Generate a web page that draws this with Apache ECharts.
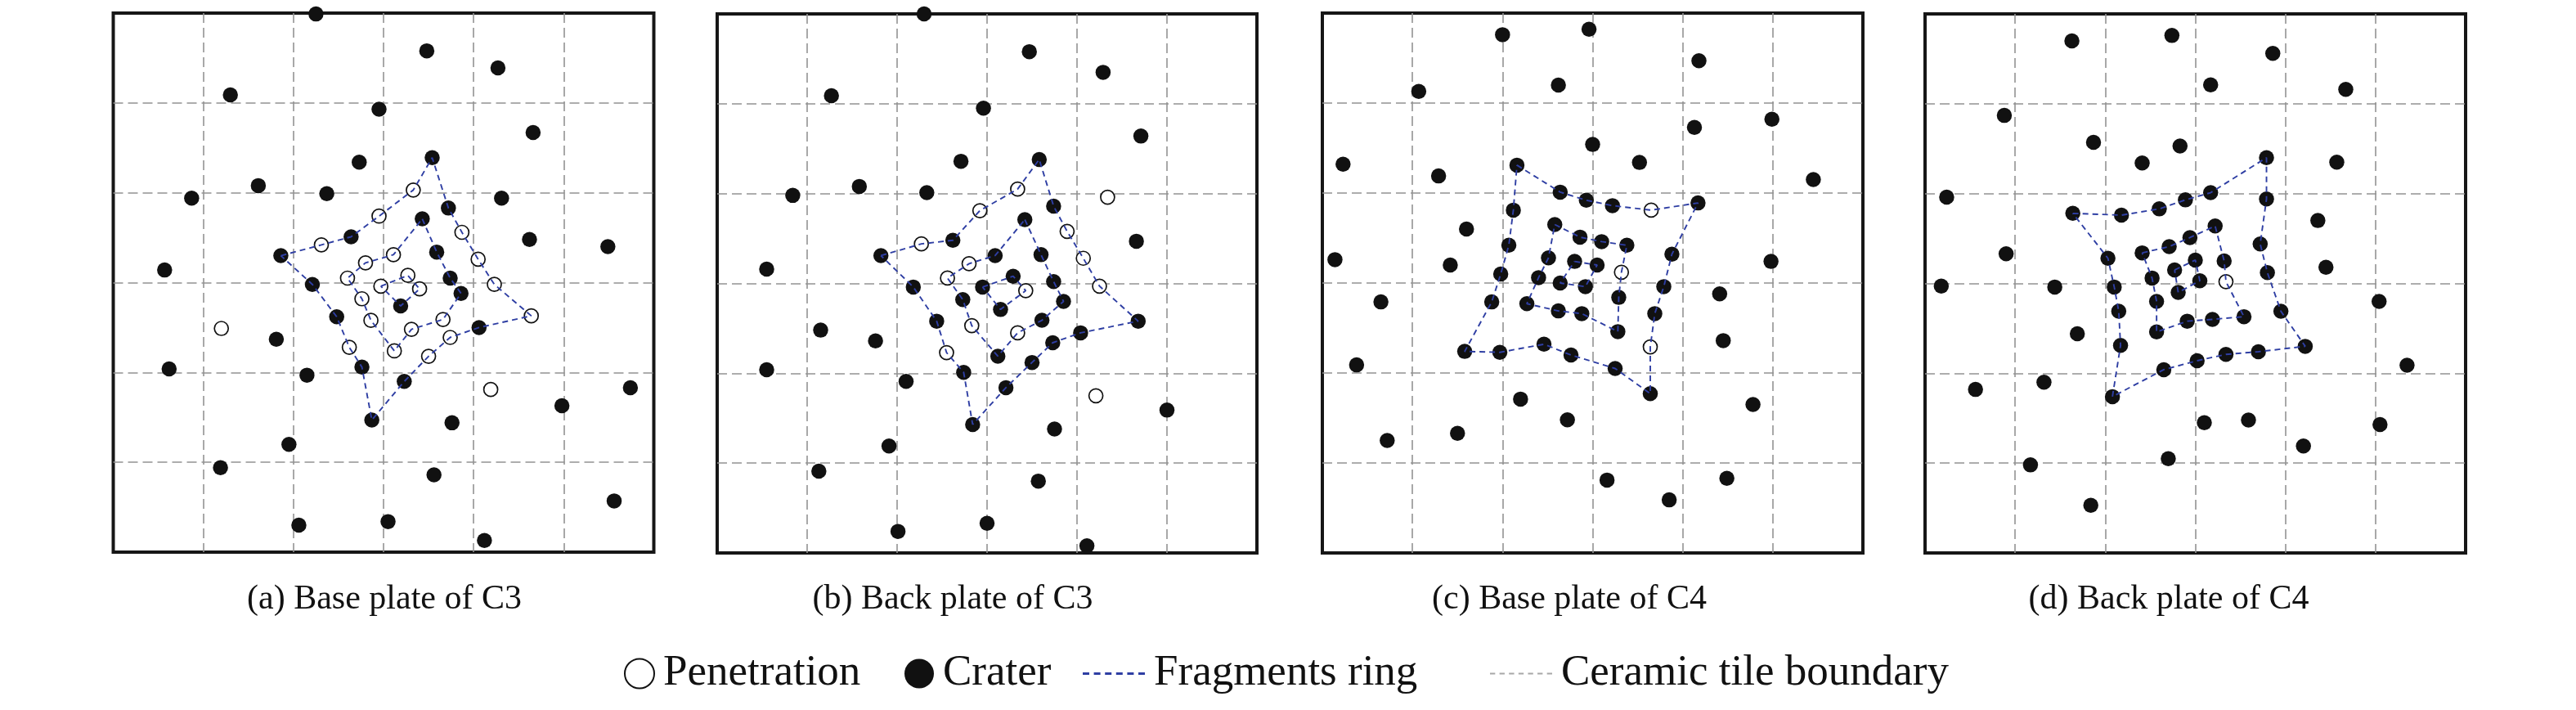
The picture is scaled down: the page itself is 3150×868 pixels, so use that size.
<!DOCTYPE html>
<html>
<head>
<meta charset="utf-8">
<script src="https://cdn.jsdelivr.net/npm/echarts@6/dist/echarts.min.js"></script>
<style>
html,body{margin:0;padding:0;background:#fff;}
#chart{width:3150px;height:868px;}
</style>
</head>
<body>
<div id="chart"></div>
<script>
// ---- Data (tile units: 6 x 6 ceramic tiles, y measured from top) ----
const captions = ['(a) Base plate of C3', '(b) Back plate of C3', '(c) Base plate of C4', '(d) Back plate of C4'];
const legendNames = ['Penetration', 'Crater', 'Fragments ring', 'Ceramic tile boundary'];

const a_crater = [[2.25,0.01],[3.48,0.42],[4.27,0.61],[1.30,0.91],[2.95,1.07],[4.66,1.33],[3.54,1.61],[2.73,1.66],[1.61,1.92],[0.87,2.06],[2.37,2.01],[4.31,2.06],[3.72,2.17],[3.43,2.29],[4.62,2.52],[5.49,2.60],[2.64,2.49],[1.86,2.70],[3.59,2.66],[0.57,2.86],[3.74,2.95],[2.21,3.02],[3.86,3.12],[3.19,3.26],[2.48,3.38],[4.06,3.50],[1.81,3.63],[0.62,3.96],[2.76,3.94],[2.15,4.03],[3.23,4.10],[5.74,4.17],[4.98,4.37],[2.87,4.53],[3.76,4.56],[1.95,4.80],[1.19,5.06],[3.56,5.14],[5.56,5.43],[2.06,5.70],[3.05,5.66],[4.12,5.87]];
const a_pen = [[3.33,1.97],[2.95,2.26],[2.31,2.58],[3.11,2.69],[2.80,2.78],[2.60,2.95],[3.27,2.92],[2.97,3.04],[3.40,3.07],[3.87,2.44],[4.05,2.74],[4.23,3.02],[4.64,3.37],[2.76,3.18],[2.86,3.42],[3.66,3.41],[3.31,3.52],[3.12,3.76],[2.62,3.72],[3.74,3.61],[3.50,3.82],[1.20,3.51],[4.19,4.19]];
const a_ring_outer = [[1.86,2.70],[2.31,2.58],[2.64,2.49],[2.95,2.26],[3.33,1.97],[3.54,1.61],[3.72,2.17],[3.87,2.44],[4.05,2.74],[4.23,3.02],[4.64,3.37],[4.06,3.50],[3.74,3.61],[3.50,3.82],[3.23,4.10],[2.87,4.53],[2.76,3.94],[2.62,3.72],[2.48,3.38],[2.21,3.02],[1.86,2.70]];
const a_ring_mid = [[3.43,2.29],[3.59,2.66],[3.74,2.95],[3.86,3.12],[3.66,3.41],[3.31,3.52],[3.12,3.76],[2.86,3.42],[2.76,3.18],[2.60,2.95],[2.80,2.78],[3.11,2.69],[3.43,2.29]];
const a_ring_inner = [[2.97,3.04],[3.27,2.92],[3.40,3.07],[3.19,3.26],[2.97,3.04]];

const b_crater = [[2.30,0.00],[3.47,0.42],[4.29,0.65],[1.27,0.91],[2.96,1.05],[4.71,1.36],[3.58,1.62],[2.71,1.64],[1.58,1.92],[0.84,2.02],[2.33,1.99],[3.74,2.14],[3.42,2.29],[4.66,2.53],[2.62,2.52],[1.82,2.69],[3.60,2.68],[3.09,2.69],[0.55,2.84],[3.29,2.92],[2.95,3.04],[2.18,3.04],[3.74,2.98],[3.85,3.20],[2.73,3.18],[3.15,3.29],[2.44,3.42],[3.61,3.41],[4.68,3.42],[4.04,3.55],[1.15,3.52],[1.76,3.64],[3.73,3.66],[3.12,3.81],[0.55,3.96],[3.50,3.88],[2.74,3.99],[2.10,4.09],[3.21,4.16],[5.00,4.41],[2.84,4.57],[3.75,4.62],[1.91,4.81],[1.13,5.09],[3.57,5.20],[3.00,5.67],[2.01,5.76],[4.11,5.92]];
const b_pen = [[3.34,1.95],[2.92,2.19],[2.27,2.56],[4.34,2.04],[3.89,2.42],[4.07,2.72],[4.25,3.03],[2.80,2.78],[2.56,2.94],[3.43,3.08],[2.83,3.47],[3.34,3.55],[2.55,3.77],[4.21,4.25]];
const b_ring_outer = [[1.82,2.69],[2.27,2.56],[2.62,2.52],[2.92,2.19],[3.34,1.95],[3.58,1.62],[3.74,2.14],[3.89,2.42],[4.07,2.72],[4.25,3.03],[4.68,3.42],[4.04,3.55],[3.73,3.66],[3.50,3.88],[3.21,4.16],[2.84,4.57],[2.74,3.99],[2.55,3.77],[2.44,3.42],[2.18,3.04],[1.82,2.69]];
const b_ring_mid = [[3.42,2.29],[3.60,2.68],[3.74,2.98],[3.85,3.20],[3.61,3.41],[3.34,3.55],[3.12,3.81],[2.83,3.47],[2.73,3.18],[2.56,2.94],[2.80,2.78],[3.09,2.69],[3.42,2.29]];
const b_ring_inner = [[2.95,3.04],[3.29,2.92],[3.43,3.08],[3.15,3.29],[2.95,3.04]];

const c_crater = [[2.00,0.24],[2.96,0.18],[4.18,0.53],[1.07,0.87],[2.62,0.80],[4.99,1.18],[4.13,1.27],[3.00,1.46],[0.23,1.68],[1.29,1.81],[2.16,1.69],[3.52,1.66],[5.45,1.85],[2.64,1.99],[2.93,2.08],[3.22,2.14],[4.17,2.11],[2.12,2.19],[1.60,2.40],[2.58,2.35],[2.86,2.49],[3.10,2.54],[3.38,2.58],[2.07,2.58],[3.88,2.68],[0.14,2.74],[1.42,2.80],[2.51,2.72],[2.80,2.76],[3.05,2.80],[4.98,2.76],[1.98,2.90],[2.40,2.94],[2.64,3.00],[2.92,3.04],[3.79,3.04],[3.29,3.16],[4.41,3.12],[0.65,3.21],[1.88,3.21],[2.27,3.23],[2.62,3.31],[2.88,3.34],[3.69,3.34],[3.28,3.54],[4.45,3.64],[2.46,3.68],[1.58,3.76],[1.97,3.77],[2.76,3.80],[0.38,3.91],[3.25,3.95],[3.64,4.23],[2.20,4.29],[4.78,4.35],[2.72,4.52],[1.50,4.67],[0.72,4.75],[3.16,5.19],[4.49,5.17],[3.85,5.41]];
const c_pen = [[3.65,2.19],[3.32,2.88],[3.64,3.71]];
const c_ring_outer = [[2.16,1.69],[2.64,1.99],[2.93,2.08],[3.22,2.14],[3.65,2.19],[4.17,2.11],[3.88,2.68],[3.79,3.04],[3.69,3.34],[3.64,3.71],[3.64,4.23],[3.25,3.95],[2.76,3.80],[2.46,3.68],[1.97,3.77],[1.58,3.76],[1.88,3.21],[1.98,2.90],[2.07,2.58],[2.12,2.19],[2.16,1.69]];
const c_ring_mid = [[2.58,2.35],[2.86,2.49],[3.10,2.54],[3.38,2.58],[3.32,2.88],[3.29,3.16],[3.28,3.54],[2.88,3.34],[2.62,3.31],[2.27,3.23],[2.40,2.94],[2.51,2.72],[2.58,2.35]];
const c_ring_inner = [[2.80,2.76],[3.05,2.80],[2.92,3.04],[2.64,3.00],[2.80,2.76]];

const d_crater = [[1.63,0.30],[2.74,0.24],[3.86,0.44],[3.17,0.79],[4.67,0.84],[0.88,1.13],[1.87,1.43],[2.83,1.47],[2.41,1.66],[3.79,1.60],[4.57,1.65],[0.24,2.04],[3.17,1.99],[2.89,2.07],[2.60,2.17],[2.18,2.24],[1.64,2.22],[3.79,2.06],[4.36,2.30],[3.22,2.36],[2.94,2.49],[2.71,2.59],[2.41,2.66],[3.72,2.56],[0.90,2.67],[2.03,2.72],[3.32,2.75],[3.00,2.74],[2.77,2.85],[3.80,2.88],[4.45,2.82],[2.52,2.94],[3.05,2.97],[0.18,3.03],[1.44,3.04],[2.10,3.04],[2.81,3.10],[2.57,3.20],[5.04,3.20],[2.15,3.31],[3.95,3.31],[3.54,3.37],[2.91,3.42],[3.19,3.40],[2.57,3.54],[1.69,3.56],[2.17,3.69],[4.22,3.70],[3.70,3.76],[3.34,3.79],[3.02,3.86],[2.65,3.96],[5.35,3.91],[1.32,4.10],[0.56,4.18],[2.08,4.26],[3.10,4.55],[3.59,4.52],[5.05,4.57],[4.20,4.81],[2.70,4.95],[1.17,5.02],[1.84,5.47]];
const d_pen = [[3.34,2.98]];
const d_ring_outer = [[1.64,2.22],[2.18,2.24],[2.60,2.17],[2.89,2.07],[3.17,1.99],[3.79,1.60],[3.79,2.06],[3.72,2.56],[3.80,2.88],[3.95,3.31],[4.22,3.70],[3.70,3.76],[3.34,3.79],[3.02,3.86],[2.65,3.96],[2.08,4.26],[2.17,3.69],[2.15,3.31],[2.10,3.04],[2.03,2.72],[1.64,2.22]];
const d_ring_mid = [[2.41,2.66],[2.71,2.59],[2.94,2.49],[3.22,2.36],[3.32,2.75],[3.34,2.98],[3.54,3.37],[3.19,3.40],[2.91,3.42],[2.57,3.54],[2.57,3.20],[2.52,2.94],[2.41,2.66]];
const d_ring_inner = [[2.77,2.85],[3.00,2.74],[3.05,2.97],[2.81,3.10],[2.77,2.85]];

const tileMin = 0, tileMax = 6, tileStep = 1;

// ---- Layout ----
const panels = [
  {crater: a_crater, pen: a_pen, rings: [a_ring_outer, a_ring_mid, a_ring_inner]},
  {crater: b_crater, pen: b_pen, rings: [b_ring_outer, b_ring_mid, b_ring_inner]},
  {crater: c_crater, pen: c_pen, rings: [c_ring_outer, c_ring_mid, c_ring_inner]},
  {crater: d_crater, pen: d_pen, rings: [d_ring_outer, d_ring_mid, d_ring_inner]}
];
const gridBoxes = [
  {left: 138.5, top: 16, width: 661, height: 659},
  {left: 877, top: 17, width: 660, height: 659},
  {left: 1617, top: 16, width: 661, height: 660},
  {left: 2354, top: 17, width: 661, height: 659}
];
const captionX = [470, 1165, 1919, 2652];

const serif = '"Liberation Serif", "DejaVu Serif", serif';
const ringColor = '#2e3ea3';
const tileColor = '#939393';

function dashPath(n, dash, gap, h) {
  let s = 'path://';
  for (let k = 0; k < n; k++) {
    const x = k * (dash + gap);
    s += 'M' + x + ',0h' + dash + 'v' + h + 'h-' + dash + 'z';
  }
  return s;
}

const grids = [], xAxes = [], yAxes = [], series = [], titles = [];
panels.forEach((p, i) => {
  grids.push(Object.assign({show: true, borderColor: '#161616', borderWidth: 4, backgroundColor: 'transparent'}, gridBoxes[i]));
  const ax = {
    gridIndex: i, type: 'value', min: tileMin, max: tileMax, interval: tileStep,
    axisLine: {show: false}, axisTick: {show: false}, axisLabel: {show: false},
    splitLine: {show: true, showMinLine: false, showMaxLine: false,
      lineStyle: {color: tileColor, width: 1.6, type: [12, 6]}}
  };
  xAxes.push(Object.assign({}, ax));
  yAxes.push(Object.assign({inverse: true}, ax));
  series.push({
    name: 'Crater', type: 'scatter', xAxisIndex: i, yAxisIndex: i, data: p.crater,
    symbol: 'circle', symbolSize: 18.5, clip: false, z: 2,
    itemStyle: {color: '#111', opacity: 1}
  });
  series.push({
    name: 'Penetration', type: 'scatter', xAxisIndex: i, yAxisIndex: i, data: p.pen,
    symbol: 'circle', symbolSize: 17, clip: false, z: 2,
    itemStyle: {color: '#fff', borderColor: '#111', borderWidth: 1.7, opacity: 1}
  });
  p.rings.forEach(r => {
    series.push({
      name: 'Fragments ring', type: 'line', xAxisIndex: i, yAxisIndex: i, data: r,
      symbol: 'none', z: 3, silent: true,
      itemStyle: {color: ringColor},
      lineStyle: {color: ringColor, width: 1.9, type: [7, 5]}
    });
  });
  titles.push({
    text: captions[i], left: captionX[i], top: 712, textAlign: 'center', padding: 0,
    textStyle: {fontFamily: serif, fontSize: 42, fontWeight: 'normal', color: '#111'}
  });
});
series.push({
  name: 'Ceramic tile boundary', type: 'line', xAxisIndex: 0, yAxisIndex: 0, data: [],
  symbol: 'none', itemStyle: {color: tileColor},
  lineStyle: {color: tileColor, width: 2, type: [5, 5]}
});

const legendText = {fontFamily: serif, fontSize: 53, color: '#111', padding: [0, 0, 0, 6]};
const legends = [
  {data: [{name: legendNames[0], icon: 'circle'}], left: 763, itemWidth: 36, itemHeight: 38},
  {data: [{name: legendNames[1], icon: 'circle'}], left: 1106, itemWidth: 36, itemHeight: 38},
  {data: [{name: legendNames[2], icon: dashPath(6, 8, 5.6, 3.2), itemStyle: {color: ringColor}}], left: 1324, itemWidth: 76, itemHeight: 4},
  {data: [{name: legendNames[3], icon: dashPath(7, 6, 5, 2), itemStyle: {color: '#a8a8a8'}}], left: 1822, itemWidth: 76, itemHeight: 3}
].map(l => Object.assign({top: 797, padding: 0, orient: 'horizontal', symbolKeepAspect: true, textStyle: legendText}, l));

const chart = echarts.init(document.getElementById('chart'), null, {renderer: 'canvas'});
chart.setOption({
  animation: false,
  backgroundColor: '#fff',
  title: titles,
  grid: grids,
  xAxis: xAxes,
  yAxis: yAxes,
  legend: legends,
  series: series
});
</script>
</body>
</html>
